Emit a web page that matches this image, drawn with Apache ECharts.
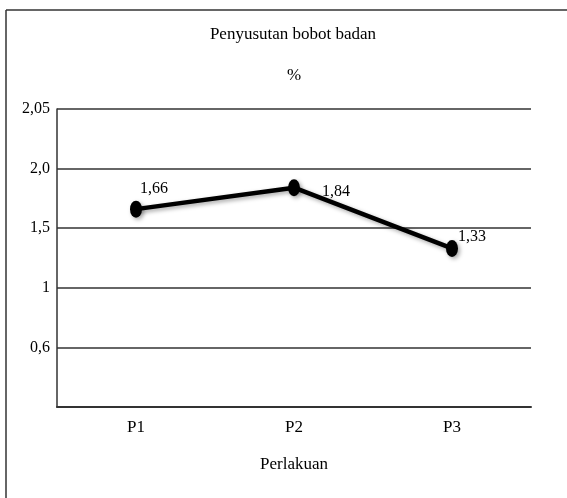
<!DOCTYPE html>
<html>
<head>
<meta charset="utf-8">
<script src="https://cdn.jsdelivr.net/npm/echarts@6/dist/echarts.min.js"></script>
<style>
html,body{margin:0;padding:0;background:#fff;}
#chart{width:567px;height:498px;}
</style>
</head>
<body>
<div id="chart"></div>
<script>
var categories = ['P1', 'P2', 'P3'];
var values = [1.66, 1.84, 1.33];
var valueLabels = ['1,66', '1,84', '1,33'];
var yTickLabels = ['', '0,6', '1', '1,5', '2,0', '2,05'];
var chartTitle = 'Penyusutan bobot badan';
var unitTitle = '%';
var xName = 'Perlakuan';

var font = '"Liberation Serif", "Times New Roman", serif';
var labelOffsets = [[-2, -20], [22, 4], [0, -12]];

var chart = echarts.init(document.getElementById('chart'), null, {renderer: 'canvas'});
chart.setOption({
  animation: false,
  backgroundColor: '#fff',
  title: [
    {text: chartTitle, left: 288, top: 21, textAlign: 'center',
     textStyle: {fontFamily: font, fontSize: 17, fontWeight: 'normal', color: '#000'}},
    {text: unitTitle, left: 289, top: 62, textAlign: 'center',
     textStyle: {fontFamily: font, fontSize: 17, fontWeight: 'normal', color: '#000'}}
  ],
  graphic: [
    {type: 'line', shape: {x1: 6, y1: 10, x2: 6, y2: 498}, style: {stroke: '#333', lineWidth: 1.5}},
    {type: 'line', shape: {x1: 6, y1: 10, x2: 567, y2: 10}, style: {stroke: '#333', lineWidth: 1.5}}
  ],
  grid: {left: 57, right: 36, top: 109, bottom: 91, containLabel: false},
  xAxis: {
    type: 'category',
    data: categories,
    boundaryGap: true,
    name: xName,
    nameLocation: 'middle',
    nameGap: 49,
    nameTextStyle: {fontFamily: font, fontSize: 17, color: '#000'},
    axisLine: {show: true, lineStyle: {color: '#333', width: 2}},
    axisTick: {show: false},
    axisLabel: {fontFamily: font, fontSize: 17, color: '#000', margin: 12}
  },
  yAxis: {
    type: 'value',
    min: 0,
    max: 2.5,
    interval: 0.5,
    axisLine: {show: true, lineStyle: {color: '#333', width: 1.5}},
    axisTick: {show: false},
    splitLine: {show: true, lineStyle: {color: '#333', width: 1.5}},
    axisLabel: {
      fontFamily: font, fontSize: 16, color: '#000', margin: 7,
      formatter: function (v) {
        var i = Math.round(v / 0.5);
        return yTickLabels[i] !== undefined ? yTickLabels[i] : '';
      }
    }
  },
  series: [{
    type: 'line',
    data: values.map(function (v, i) {
      return {
        value: v,
        label: {
          show: true,
          formatter: valueLabels[i],
          position: 'right',
          distance: 0,
          offset: labelOffsets[i],
          fontFamily: font, fontSize: 16, color: '#000'
        }
      };
    }),
    symbol: 'circle',
    symbolSize: [12, 17],
    itemStyle: {color: '#000', shadowColor: 'rgba(0,0,0,0.35)', shadowBlur: 4, shadowOffsetX: 2, shadowOffsetY: 2},
    lineStyle: {color: '#000', width: 4.5, shadowColor: 'rgba(0,0,0,0.35)', shadowBlur: 4, shadowOffsetX: 2, shadowOffsetY: 2}
  }]
});
</script>
</body>
</html>
